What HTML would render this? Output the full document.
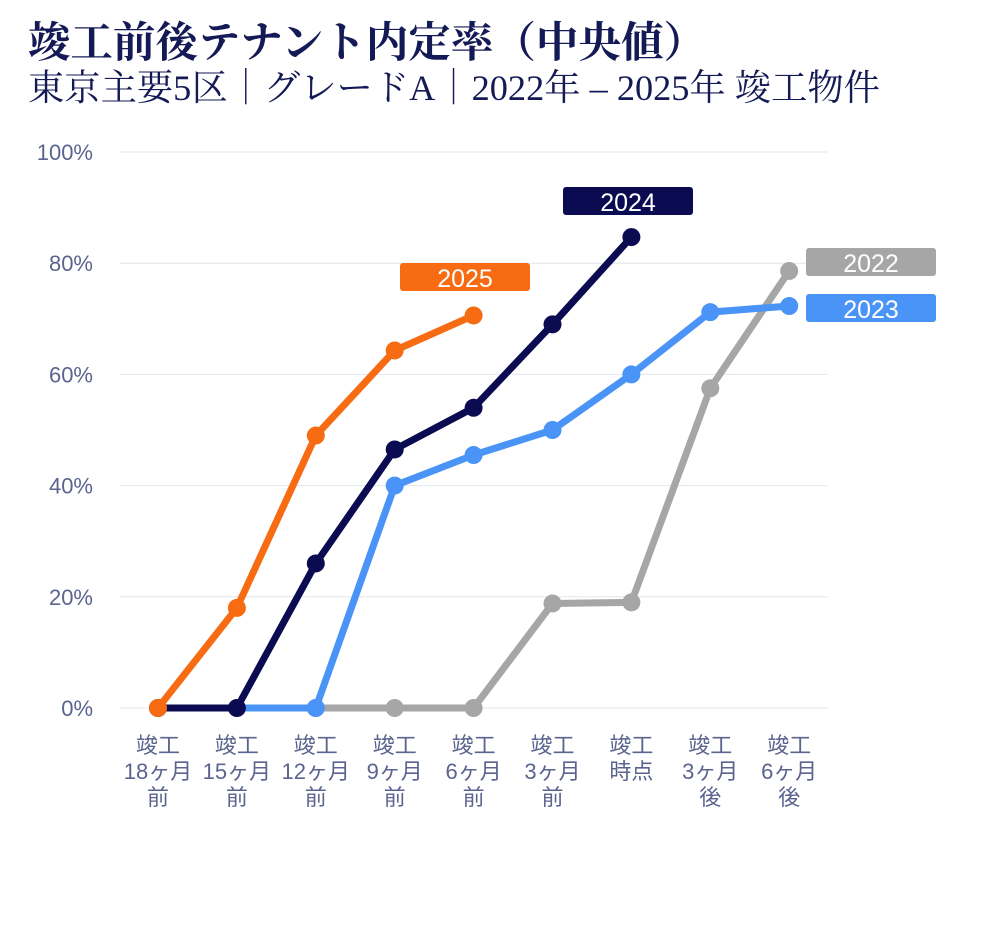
<!DOCTYPE html>
<html><head><meta charset="utf-8"><style>
body{margin:0;background:#fff;width:990px;height:945px;overflow:hidden}
.t{position:absolute;left:28px;font-family:"Liberation Serif","Noto Serif CJK JP","Noto Serif CJK SC",serif;color:#141a55;white-space:nowrap}
</style></head><body>
<div class="t" style="top:9px;font-size:42.5px;font-weight:bold">竣工前後テナント内定率（中央値）</div>
<div class="t" style="top:59px;font-size:36.3px">東京主要5区｜グレードA｜2022年 – 2025年 竣工物件</div>
<svg id="c" width="990" height="945" style="position:absolute;left:0;top:0"></svg>
<script>
const categories=[["竣工","18ヶ月","前"],["竣工","15ヶ月","前"],["竣工","12ヶ月","前"],["竣工","9ヶ月","前"],["竣工","6ヶ月","前"],["竣工","3ヶ月","前"],["竣工","時点"],["竣工","3ヶ月","後"],["竣工","6ヶ月","後"]];
const yTicks=[0,20,40,60,80,100];
const s2022=[null,null,0,0,0,18.8,19,57.5,78.6];
const s2023=[null,0,0,40,45.5,50,60,71.2,72.3];
const s2024=[0,0,26,46.5,54,69,84.7,null,null];
const s2025=[0,18,49,64.3,70.6,null,null,null,null];
const seriesNames=["2022","2023","2024","2025"];
const NS="http://www.w3.org/2000/svg",svg=document.getElementById('c');
const x=i=>158+i*78.9, y=v=>708-v*5.56;
function el(t,a,p){const e=document.createElementNS(NS,t);for(const k in a)e.setAttribute(k,a[k]);(p||svg).appendChild(e);return e;}
const font='"Liberation Sans","Noto Sans CJK JP",sans-serif';
yTicks.forEach(v=>{
 const g=el('line',{x1:120,x2:828,y1:y(v),y2:y(v),stroke:'#e3e6ee','stroke-width':1});
 
 
 const t=el('text',{x:93,y:y(v)+8,'text-anchor':'end','font-size':22,fill:'#5b648f','font-family':font});
 t.textContent=v+'%';
 
 
});
categories.forEach((c,i)=>{
 const t=el('text',{'text-anchor':'middle','font-size':22,fill:'#5b648f','font-family':font});
 
 
 c.forEach((s,j)=>{const ts=el('tspan',{x:x(i),y:753+j*26},t);ts.textContent=s;});
});
const colors={"2022":"#a6a6a6","2023":"#4a93f7","2024":"#0b0b52","2025":"#f76b12"};
const data={"2022":s2022,"2023":s2023,"2024":s2024,"2025":s2025};
seriesNames.forEach(n=>{
 const d=data[n];let p='';
 d.forEach((v,i)=>{if(v!==null)p+=(p?'L':'M')+x(i)+','+y(v);});
 const l=el('path',{d:p,fill:'none',stroke:colors[n],'stroke-width':7,'stroke-linejoin':'round'});
 
 
 d.forEach((v,i)=>{if(v===null)return;
  if(n==='2023'&&i===1)return;
  const ci=el('circle',{cx:x(i),cy:y(v),r:9,fill:colors[n]});
  
  
 });
});
const labels=[["2025",400,263],["2024",563,187],["2022",806,248],["2023",806,294]];
labels.forEach(([n,lx,ly])=>{
 const r=el('rect',{x:lx,y:ly,width:130,height:28,rx:3,fill:colors[n]});
 
 
 const t=el('text',{x:lx+65,y:ly+24,'text-anchor':'middle','font-size':25,fill:'#fff','font-family':font});
 t.textContent=n;
 
 
});
</script>
</body></html>
